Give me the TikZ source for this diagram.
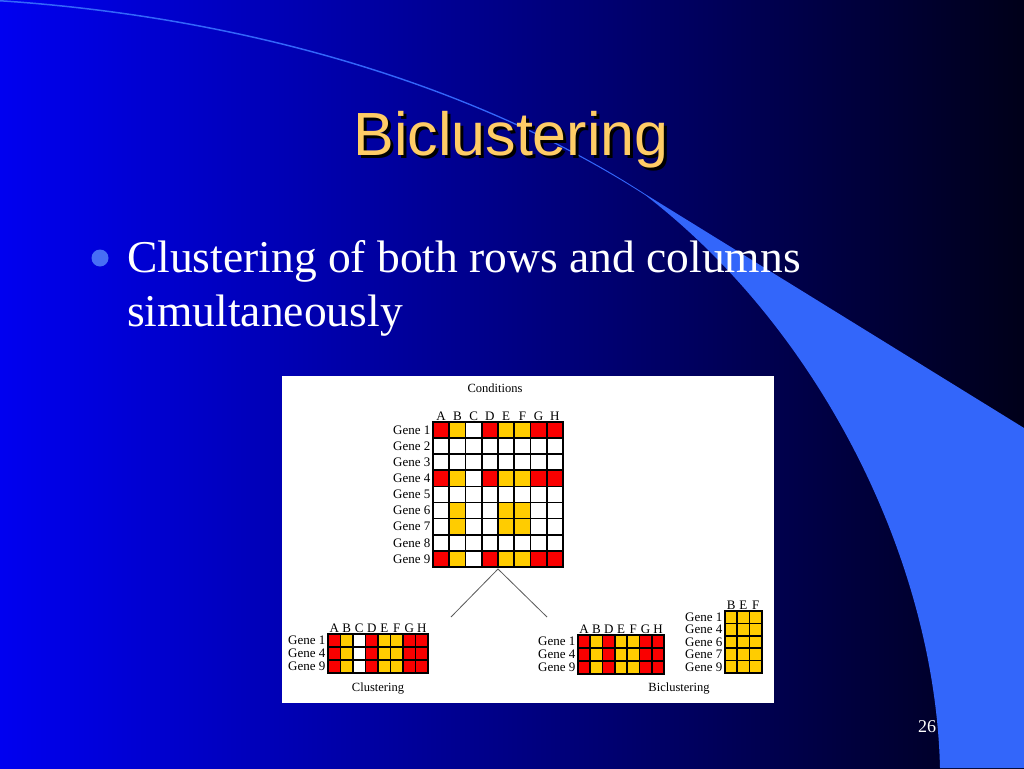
\documentclass[tikz,border=0pt]{standalone}
\usepackage{fontspec}
\setmainfont{Liberation Serif}
\newfontfamily\titlefont{Liberation Sans}
\usetikzlibrary{positioning}

\definecolor{slideblue}{RGB}{0,0,240}
\definecolor{slidemid}{RGB}{0,0,175}
\definecolor{slidedark}{RGB}{0,0,25}
\definecolor{wedgeblue}{RGB}{51,102,250}
\definecolor{bulletblue}{RGB}{70,110,245}
\definecolor{titlegold}{RGB}{255,204,102}
\definecolor{gR}{RGB}{250,0,0}
\definecolor{gY}{RGB}{255,204,0}
\definecolor{gW}{RGB}{255,255,255}

\tikzset{
  cell/.style={draw=black, line width=1.7pt},
  genelabel/.style={anchor=east, inner sep=1pt, font=\fontsize{13}{13}\selectfont},
  collabel/.style={anchor=base, inner sep=0pt, font=\fontsize{13}{13}\selectfont},
  caption/.style={inner sep=0pt, font=\fontsize{12.5}{13}\selectfont},
  branch/.style={draw=black!65, line width=0.8pt},
}

\begin{document}
\begin{tikzpicture}[x=1pt,y=-1pt]

    % constants
    \def\bigx{433}  \def\bigy{422}  \def\bw{16.25} \def\bh{16.1}
    \def\clx{328}   \def\cly{634}   \def\sw{12.5}  \def\sh{13}
    \def\bax{578}   \def\bay{635}   \def\tw{12.3}
    \def\bbx{725}   \def\bby{611}

    % slide background
    \useasboundingbox (0,0) rectangle (1024,768);
    \shade[left color=slideblue, middle color=slidemid, right color=slidedark] (0,0) rectangle (1024,768);
    \fill[wedgeblue] (0,0) .. controls (250,16.5) and (480,87) .. (645,194) -- (1024,428)
        -- (1024,768) -- (940,768) .. controls (935,560) and (820,330) .. (646,195.6)
        .. controls (480,88.6) and (250,18) .. (0,1.5) -- cycle;

    % title and bullet
    \node (title) [font=\titlefont\fontsize{61}{61}\selectfont, text=titlegold, anchor=base] at (511,155)
        {\makebox[0pt][l]{\kern3pt\raisebox{-3pt}{\color{black}Biclustering}}Biclustering};
    \fill[bulletblue] (100,258) circle[radius=8.5];
    \node (line1) [anchor=base west, inner sep=0pt, text=white, font=\fontsize{45.5}{50}\selectfont] at (127,272) {Clustering of both rows and columns};
    \node (line2) [anchor=base west, inner sep=0pt, text=white, font=\fontsize{45.5}{50}\selectfont] at (127,326) {simultaneously};
    \node (pageno) [text=white, font=\fontsize{18}{18}\selectfont] at (927,727) {26};

    % figure panel
    \fill[white] (282,376) rectangle (774,703);
    \node (conditions) [caption] at (495,388) {Conditions};

    % full matrix
    \foreach \l [count=\k from 0] in {A,B,C,D,E,F,G,H}
        \node (bigcol-\l) [collabel] at (\bigx+\k*\bw+0.5*\bw, 420) {\l};
    \foreach \g/\pat [count=\r from 0] in {1/{R,Y,W,R,Y,Y,R,R}, 2/{W,W,W,W,W,W,W,W},
            3/{W,W,W,W,W,W,W,W}, 4/{R,Y,W,R,Y,Y,R,R}, 5/{W,W,W,W,W,W,W,W},
            6/{W,Y,W,W,Y,Y,W,W}, 7/{W,Y,W,W,Y,Y,W,W}, 8/{W,W,W,W,W,W,W,W},
            9/{R,Y,W,R,Y,Y,R,R}}{
        \node (big-\g) [genelabel] at (\bigx-1.5, \bigy+\r*\bh+0.5*\bh) {Gene \g};
        \foreach \c [count=\k from 0] in \pat
            \draw[cell, fill=g\c] (\bigx+\k*\bw, \bigy+\r*\bh) rectangle ++(\bw,\bh);
    }

    % split
    \coordinate (split) at (498,569);
    \coordinate (clusend) at (451,617);
    \coordinate (biclend) at (547,617);
    \draw[branch] (clusend) -- (split) -- (biclend);

    % clustering
    \foreach \l [count=\k from 0] in {A,B,C,D,E,F,G,H}
        \node (clcol-\l) [collabel] at (\clx+\k*\sw+0.5*\sw, 632) {\l};
    \foreach \g [count=\r from 0] in {1,4,9}{
        \node (cl-\g) [genelabel] at (\clx-1.5, \cly+\r*\sh+0.5*\sh) {Gene \g};
        \foreach \c [count=\k from 0] in {R,Y,W,R,Y,Y,R,R}
            \draw[cell, fill=g\c] (\clx+\k*\sw, \cly+\r*\sh) rectangle ++(\sw,\sh);
    }
    \node (clcap) [caption] at (378,689) {Clustering};

    % biclustering
    \foreach \l [count=\k from 0] in {A,B,D,E,F,G,H}
        \node (bacol-\l) [collabel] at (\bax+\k*\tw+0.5*\tw, 633) {\l};
    \foreach \g [count=\r from 0] in {1,4,9}{
        \node (ba-\g) [genelabel] at (\bax-1.5, \bay+\r*\sh+0.5*\sh) {Gene \g};
        \foreach \c [count=\k from 0] in {R,Y,R,Y,Y,R,R}
            \draw[cell, fill=g\c] (\bax+\k*\tw, \bay+\r*\sh) rectangle ++(\tw,\sh);
    }
    \foreach \l [count=\k from 0] in {B,E,F}
        \node (bbcol-\l) [collabel] at (\bbx+\k*\tw+0.5*\tw, 609) {\l};
    \foreach \g [count=\r from 0] in {1,4,6,7,9}{
        \node (bb-\g) [genelabel] at (\bbx-1.5, \bby+\r*12.4+6.2) {Gene \g};
        \foreach \k in {0,1,2}
            \draw[cell, fill=gY] (\bbx+\k*\tw, \bby+\r*12.4) rectangle ++(\tw,12.4);
    }
    \node (bicap) [caption] at (679,689) {Biclustering};

\end{tikzpicture}
\end{document}
